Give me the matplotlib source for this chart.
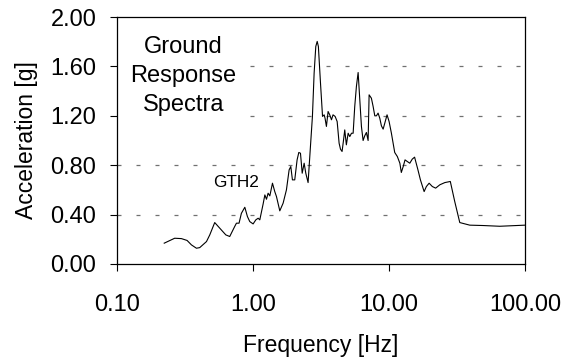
import matplotlib
matplotlib.use("Agg")
import matplotlib.pyplot as plt
from matplotlib.ticker import FixedLocator, FixedFormatter, NullLocator

plt.rcParams['font.family'] = ['Liberation Sans', 'DejaVu Sans']

# response spectrum GTH2
freq = [0.222, 0.265, 0.297, 0.327, 0.352, 0.383, 0.405, 0.454, 0.48, 0.522,
        0.569, 0.63, 0.673, 0.732, 0.754, 0.788, 0.82, 0.869, 0.908, 0.945,
        1.0, 1.047, 1.089, 1.12, 1.185, 1.22, 1.254, 1.289, 1.327, 1.388,
        1.443, 1.485, 1.571, 1.662, 1.758, 1.84, 1.893, 1.946, 2.024, 2.106,
        2.168, 2.23, 2.296, 2.373, 2.44, 2.537, 2.64, 2.73, 2.81, 2.89,
        2.96, 3.02, 3.13, 3.24, 3.33, 3.38, 3.46, 3.56, 3.66, 3.77,
        3.87, 4.01, 4.15, 4.29, 4.39, 4.51, 4.61, 4.72, 4.85, 5.0,
        5.14, 5.29, 5.44, 5.59, 5.75, 5.92, 6.09, 6.26, 6.44, 6.62,
        6.81, 7.01, 7.13, 7.41, 7.63, 7.85, 8.07, 8.3, 8.54, 8.78,
        9.04, 9.3, 9.66, 10.0, 10.4, 11.0, 11.5, 12.0, 12.3, 12.7,
        13.1, 13.6, 14.2, 14.8, 15.4, 16.3, 17.0, 18.1, 18.8, 19.7,
        20.8, 22.0, 23.6, 25.7, 28.2, 30.4, 33.1, 39.2, 49.1, 65.1, 100.0]
accel = [0.168, 0.208, 0.205, 0.19, 0.154, 0.127, 0.132, 0.181, 0.235, 0.335,
         0.289, 0.235, 0.222, 0.303, 0.33, 0.33, 0.41, 0.459, 0.384, 0.343,
         0.324, 0.357, 0.37, 0.357, 0.486, 0.559, 0.524, 0.573, 0.551, 0.654,
         0.586, 0.546, 0.43, 0.492, 0.6, 0.762, 0.789, 0.681, 0.681, 0.843,
         0.903, 0.897, 0.735, 0.816, 0.735, 0.659, 0.951, 1.195, 1.546, 1.762,
         1.803, 1.762, 1.465, 1.195, 1.208, 1.181, 1.114, 1.235, 1.208, 1.168,
         1.208, 1.195, 1.154, 0.978, 0.93, 0.911, 0.992, 1.086, 0.965, 1.059,
         1.032, 1.059, 1.059, 1.276, 1.438, 1.551, 1.33, 1.114, 1.0, 1.038,
         1.065, 1.0, 1.37, 1.343, 1.276, 1.2, 1.2, 1.222, 1.181, 1.119,
         1.092, 1.141, 1.208, 1.154, 1.059, 0.903, 0.87, 0.816, 0.741, 0.789,
         0.843, 0.83, 0.816, 0.849, 0.865, 0.762, 0.681, 0.586, 0.627, 0.654,
         0.627, 0.614, 0.641, 0.659, 0.668, 0.505, 0.335, 0.314, 0.311, 0.305, 0.314]

xticks = [0.1, 1, 10, 100]
xlabels = ["0.10", "1.00", "10.00", "100.00"]
yticks = [0.0, 0.4, 0.8, 1.2, 1.6, 2.0]
ylabels = ["0.00", "0.40", "0.80", "1.20", "1.60", "2.00"]

fig = plt.figure(figsize=(5.77, 3.64), dpi=100)
ax = fig.add_axes([0.203, 0.275, 0.707, 0.678])

for g in yticks[1:-1]:
    ax.axhline(g, color="#707070", lw=0.9, dashes=(3.2, 12.0), zorder=1)

ax.plot(freq, accel, color="black", lw=0.8, zorder=3)

ax.set_xscale("log")
ax.set_xlim(0.1, 100)
ax.set_ylim(0, 2.0)
ax.xaxis.set_major_locator(FixedLocator(xticks))
ax.xaxis.set_major_formatter(FixedFormatter(xlabels))
ax.xaxis.set_minor_locator(NullLocator())
ax.set_yticks(yticks)
ax.set_yticklabels(ylabels)

ax.tick_params(axis="y", direction="out", length=5, width=0.8, pad=10, labelsize=17)
ax.tick_params(axis="x", direction="out", length=5, width=0.8, pad=17, labelsize=17)
for s in ax.spines.values():
    s.set_linewidth(0.9)

ax.set_xlabel("Frequency [Hz]", fontsize=16.5)
ax.xaxis.set_label_coords(0.5, -0.332)
ax.xaxis.label.set_va("center")
ax.set_ylabel("Acceleration [g]", fontsize=16.5)
ax.yaxis.set_label_coords(-0.223, 0.5)
ax.yaxis.label.set_va("center")

ax.text(0.162, 0.762, "Ground\nResponse\nSpectra", transform=ax.transAxes,
        ha="center", va="center", multialignment="center", fontsize=17,
        linespacing=1.43, zorder=2,
        bbox=dict(facecolor="white", edgecolor="none", pad=9))
ax.text(0.292, 0.328, "GTH2", transform=ax.transAxes, ha="center", va="center",
        fontsize=12.4, zorder=2)

fig.savefig("out.png", dpi=100)
